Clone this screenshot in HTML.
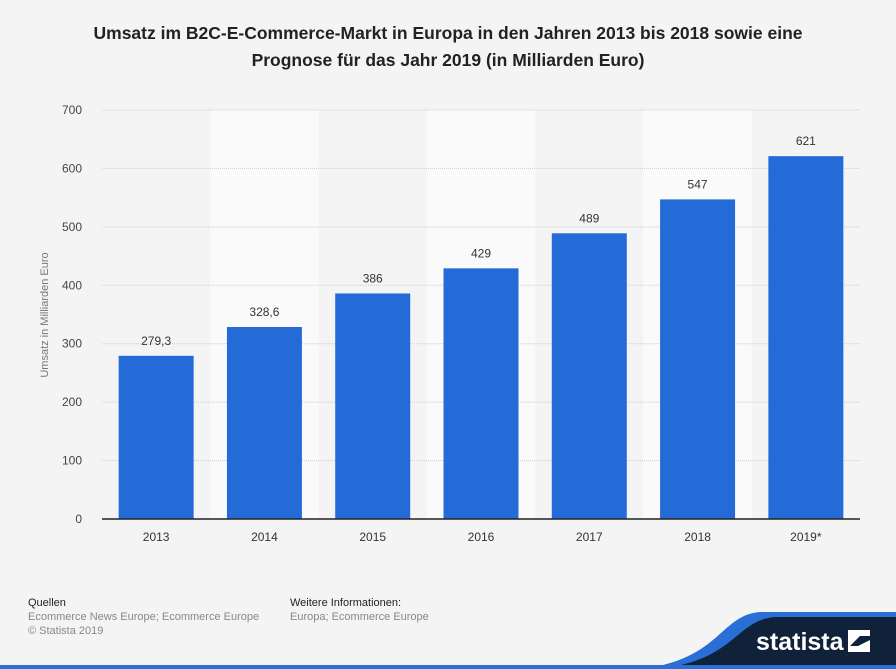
<!DOCTYPE html>
<html><head><meta charset="utf-8"><style>
body{margin:0;width:896px;height:669px;background:#f4f4f4;font-family:"Liberation Sans",sans-serif;overflow:hidden;position:relative}
.t{position:absolute;left:0;width:896px;top:20px;text-align:center;font-weight:bold;font-size:17.5px;line-height:27px;color:#222}
.f{position:absolute;font-size:11px;line-height:14px;color:#888}
.f b{font-weight:normal;color:#222}
</style></head><body>
<div class="t">Umsatz im B2C-E-Commerce-Markt in Europa in den Jahren 2013 bis 2018 sowie eine<br>Prognose für das Jahr 2019 (in Milliarden Euro)</div>
<svg id="c" width="896" height="669" style="position:absolute;left:0;top:0"></svg>
<div class="f" style="left:28px;top:596px"><b>Quellen</b><br>Ecommerce News Europe; Ecommerce Europe<br>© Statista 2019</div>
<div class="f" style="left:290px;top:596px"><b>Weitere Informationen:</b><br>Europa; Ecommerce Europe</div>
<svg width="896" height="669" style="position:absolute;left:0;top:0;pointer-events:none">
<path d="M640 669 C720 660 720 615 760 612 L896 612 L896 669 Z" fill="#2a6fd6"/>
<path d="M655 669 C735 662 735 620 775 617 L896 617 L896 669 Z" fill="#0f2239"/>
<rect x="0" y="665" width="896" height="4" fill="#2a6fd6"/>
<text x="756" y="650" font-family="Liberation Sans" font-weight="bold" font-size="25" fill="#fff">statista</text>
<path d="M848 630 L870 630 L870 636 L860 636 L848 648 Z M870 640 L870 652 L848 652 L848 646 L858 646 Z" fill="#fff"/>
</svg>
<script>
const categories=["2013","2014","2015","2016","2017","2018","2019*"];
const values=[279.3,328.6,386,429,489,547,621];
const labels=["279,3","328,6","386","429","489","547","621"];
const ticks=[0,100,200,300,400,500,600,700];
const NS="http://www.w3.org/2000/svg",svg=document.getElementById("c");
const L=102,R=860,Y0=519,Y1=110,MAX=700;
const bw=(R-L)/categories.length;
const x=i=>L+i*bw, y=v=>Y0-(v/MAX)*(Y0-Y1);
function mk(t,a){const e=document.createElementNS(NS,t);for(const k in a)e.setAttribute(k,a[k]);svg.appendChild(e);return e;}
categories.forEach((c,i)=>{if(i%2==1){const r=mk("rect",{x:x(i),y:Y1,width:bw,height:Y0-Y1,fill:"#fafafa"});

}});
ticks.forEach(t=>{const l=mk("line",{x1:L,x2:R,y1:y(t),y2:y(t),stroke:"#ccc","stroke-dasharray":"1,1"});


const tx=mk("text",{x:82,y:y(t)+4,"text-anchor":"end","font-size":"12",fill:"#444","font-family":"Liberation Sans"});tx.textContent=t;

});
categories.forEach((c,i)=>{const cx=x(i)+bw/2,bx=cx-37.5;
const r=mk("rect",{x:bx,y:y(values[i]),width:75,height:Y0-y(values[i]),fill:"#246bd8"});


const v=mk("text",{x:cx,y:y(values[i])-11,"text-anchor":"middle","font-size":"12",fill:"#333","font-family":"Liberation Sans"});v.textContent=labels[i];


const tl=mk("text",{x:cx,y:541,"text-anchor":"middle","font-size":"12",fill:"#333","font-family":"Liberation Sans"});tl.textContent=c;

});
const ax=mk("line",{x1:L,x2:R,y1:Y0,y2:Y0,stroke:"#222","stroke-width":"1.5"});


const yt=mk("text",{x:0,y:0,transform:"translate(48,315) rotate(-90)","text-anchor":"middle","font-size":"11",fill:"#777","font-family":"Liberation Sans"});yt.textContent="Umsatz in Milliarden Euro";


</script>
</body></html>
